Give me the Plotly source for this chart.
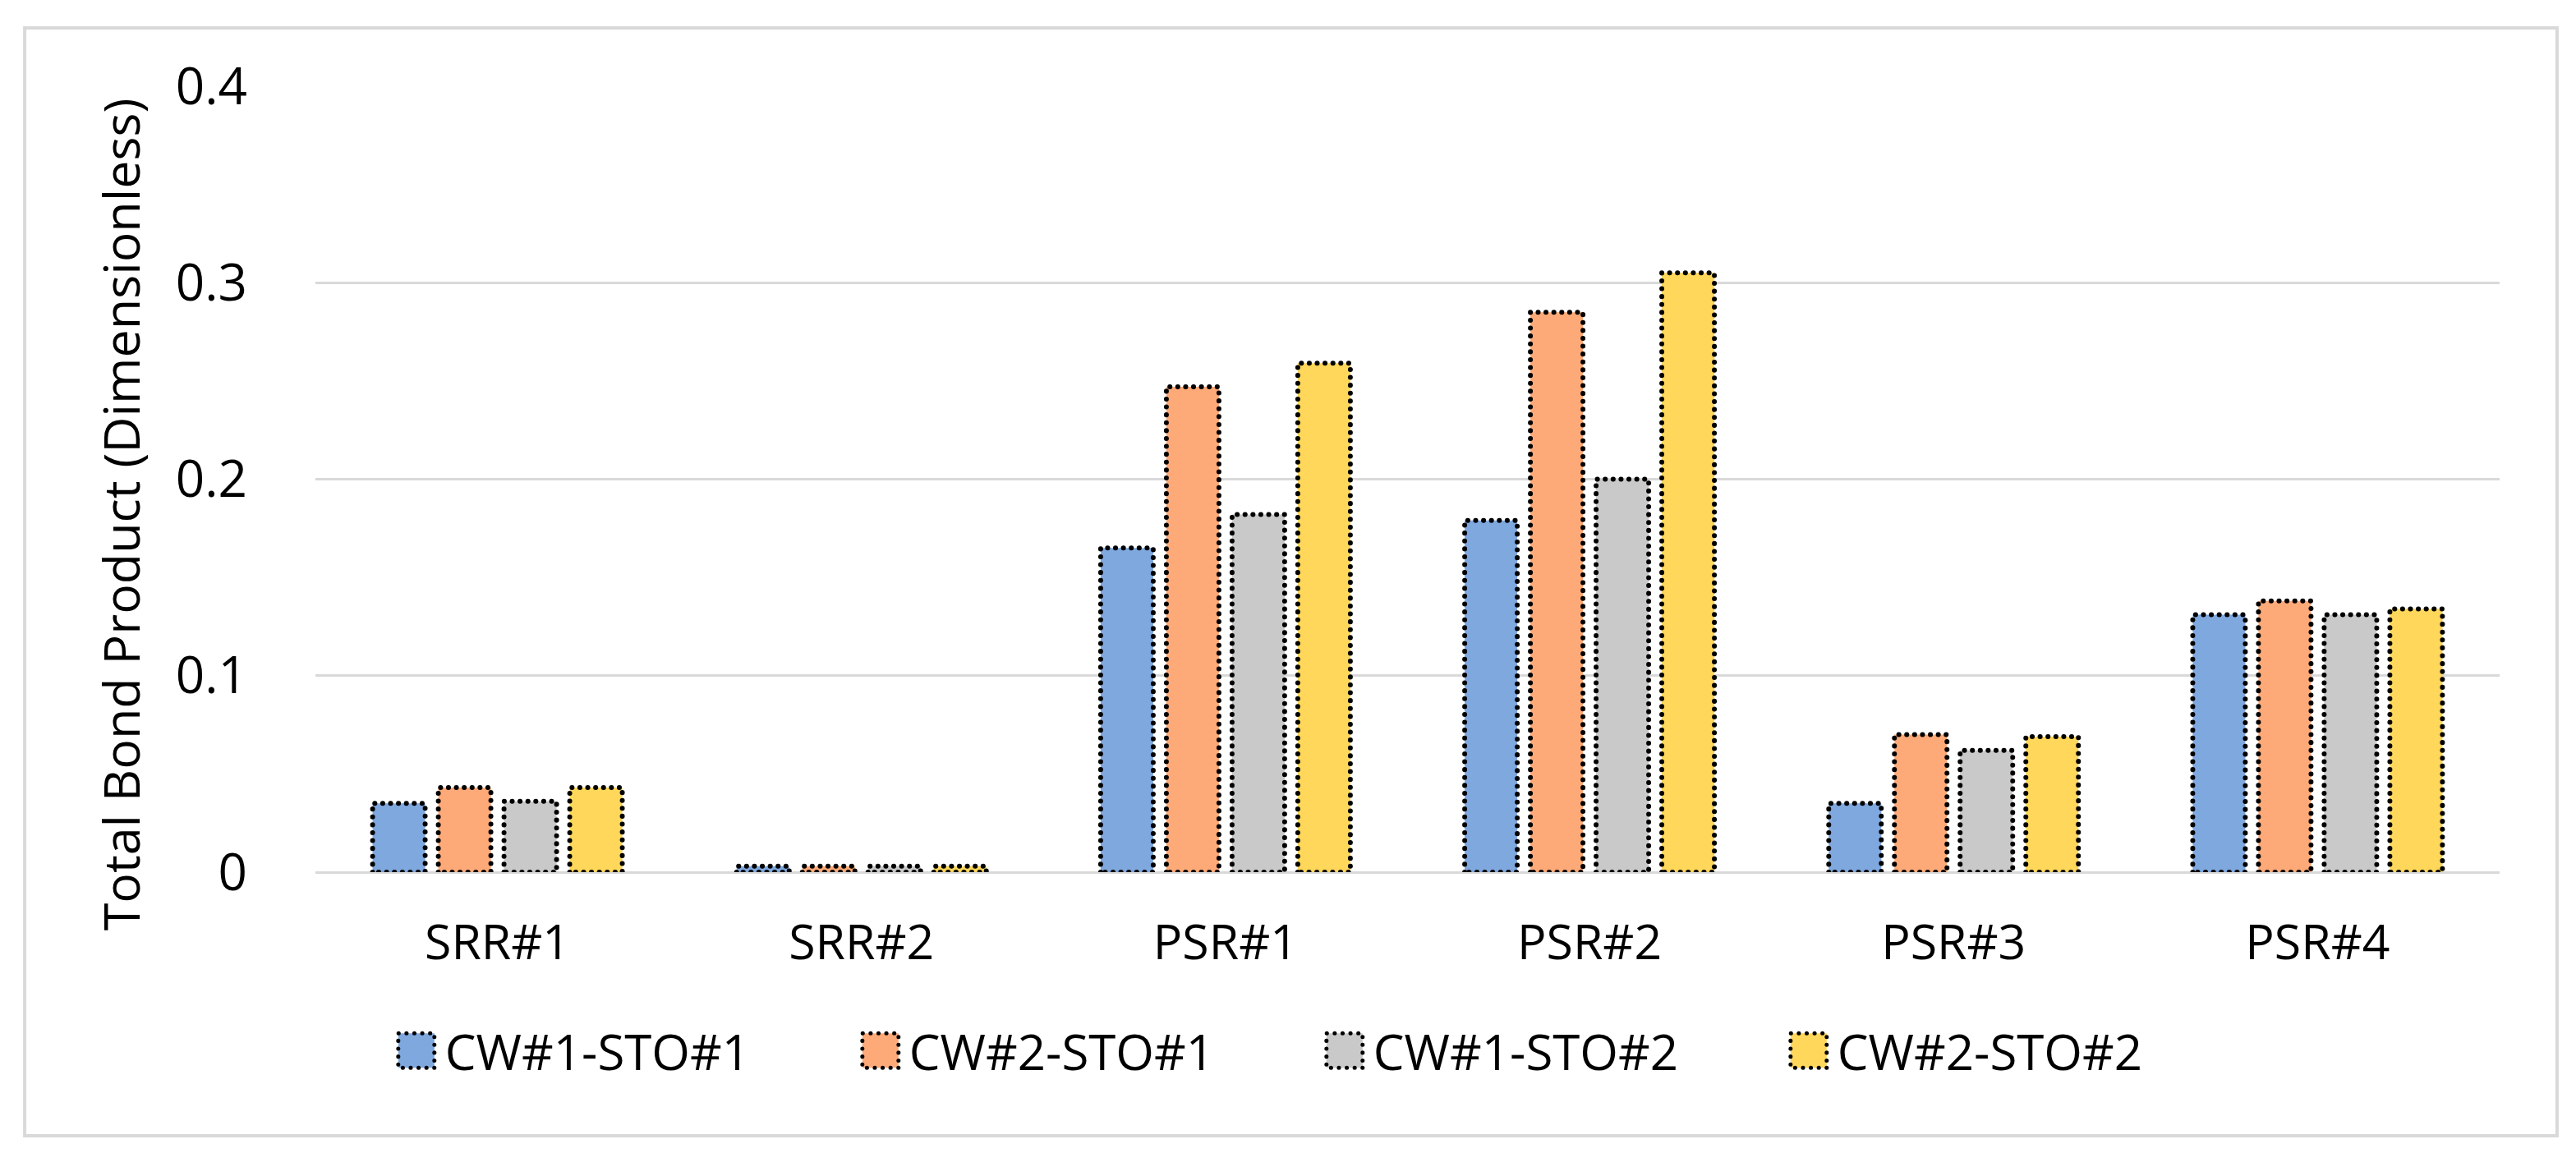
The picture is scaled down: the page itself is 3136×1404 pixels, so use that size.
import plotly.graph_objects as go

categories = ["SRR#1", "SRR#2", "PSR#1", "PSR#2", "PSR#3", "PSR#4"]
series_names = ["CW#1-STO#1", "CW#2-STO#1", "CW#1-STO#2", "CW#2-STO#2"]
cw1_sto1 = [0.035, 0.003, 0.165, 0.179, 0.035, 0.131]
cw2_sto1 = [0.043, 0.003, 0.247, 0.285, 0.070, 0.138]
cw1_sto2 = [0.036, 0.003, 0.182, 0.200, 0.062, 0.131]
cw2_sto2 = [0.043, 0.003, 0.259, 0.305, 0.069, 0.134]
y_ticks = [0, 0.1, 0.2, 0.3, 0.4]
y_tick_labels = ["0", "0.1", "0.2", "0.3", "0.4"]
y_title = "Total Bond Product (Dimensionless)"

colors = ["#7FA8DE", "#FEAA78", "#C9C9C9", "#FFD75A"]
values = [cw1_sto1, cw2_sto1, cw1_sto2, cw2_sto2]

FONT = "Open Sans"

fig = go.Figure()
for name, vals, col in zip(series_names, values, colors):
    fig.add_trace(go.Bar(
        x=categories, y=vals, name=name,
        marker=dict(color=col, line=dict(color="black", width=6)),
    ))

fig.update_layout(
    width=3136, height=1404,
    paper_bgcolor="white", plot_bgcolor="white",
    margin=dict(l=376, r=101, t=97, b=350),
    barmode="group", bargap=0.278, bargroupgap=0.2,
    font=dict(family=FONT, color="black", size=60),
    showlegend=True,
    legend=dict(
        orientation="h", x=0.458, xanchor="center", y=-0.227, yanchor="middle",
        font=dict(family=FONT, size=60, color="black"),
        itemwidth=60, entrywidth=490, entrywidthmode="pixels",
        traceorder="normal", bgcolor="rgba(0,0,0,0)",
    ),
    xaxis=dict(
        type="category", showgrid=False, showline=False, ticks="",
        tickfont=dict(family=FONT, size=59, color="black"),
        ticklabelstandoff=46, zeroline=False,
    ),
    yaxis=dict(
        range=[0, 0.4], tickvals=y_ticks, ticktext=y_tick_labels,
        showgrid=True, gridcolor="#D9D9D9", gridwidth=3,
        zeroline=True, zerolinecolor="#D9D9D9", zerolinewidth=3,
        showline=False, ticks="",
        tickfont=dict(family=FONT, size=62, color="black"),
        ticklabelstandoff=82,
    ),
    annotations=[dict(
        text=y_title, textangle=-90, xref="paper", yref="paper",
        x=-0.089, y=0.4556, xanchor="center", yanchor="middle", showarrow=False,
        font=dict(family=FONT, size=61, color="black"),
    )],
    shapes=[dict(
        type="rect", xref="paper", yref="paper",
        x0=-0.1331, x1=1.0263, y0=-0.3354, y1=1.0742,
        line=dict(color="#D9D9D9", width=4), fillcolor="rgba(0,0,0,0)", layer="below",
    )],
)

post = """
(function(){
  var st = document.createElement('style');
  st.textContent = '.barlayer .bars .point path, .legend .legendpoints path {stroke-dasharray: 0.1 9.5 !important; stroke-linecap: round !important;}';
  document.head.appendChild(st);
  var gd = document.getElementById('{plot_id}');
  function fix(){
    var ps = gd.querySelectorAll('.legend .legendpoints path');
    ps.forEach(function(p){ p.setAttribute('d', 'M22,21H-22V-21H22Z'); });
  }
  fix();
  setTimeout(fix, 50);
  if (gd.on) { gd.on('plotly_afterplot', fix); }
})();
"""

fig.write_html("out.html", post_script=post)
